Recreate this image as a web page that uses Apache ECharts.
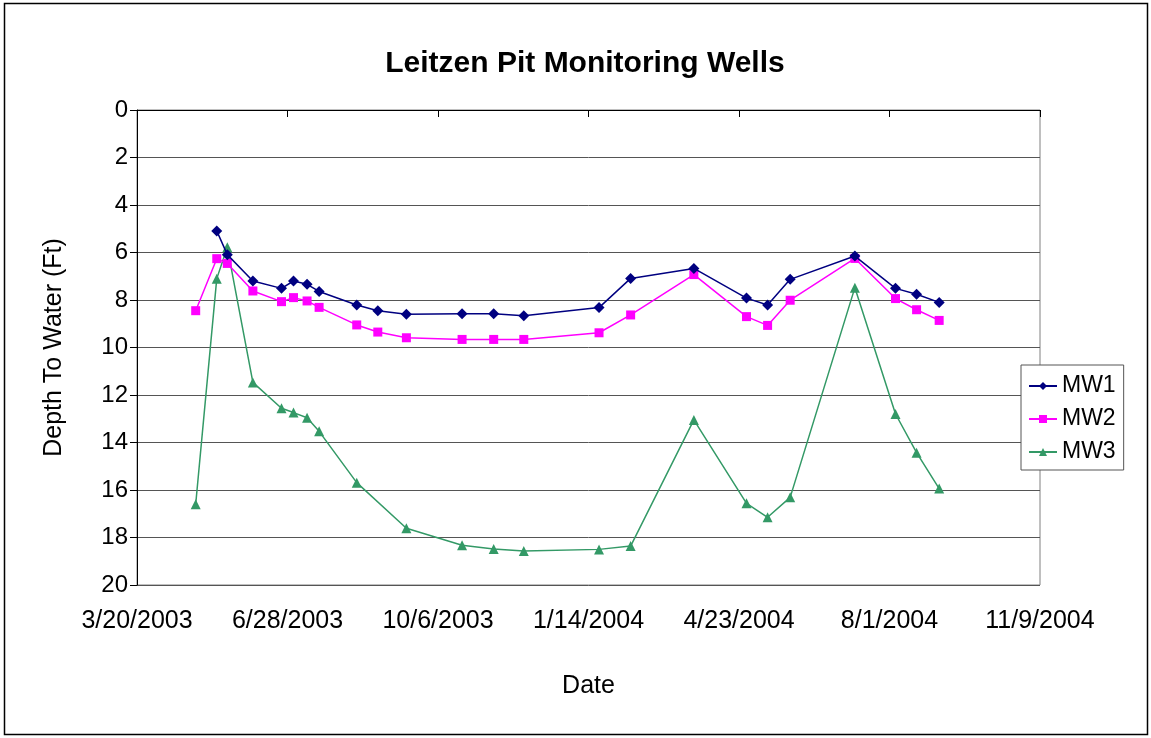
<!DOCTYPE html>
<html>
<head>
<meta charset="utf-8">
<title>Leitzen Pit Monitoring Wells</title>
<script src="https://cdn.jsdelivr.net/npm/echarts@6/dist/echarts.min.js"></script>
<style>
  html, body { margin: 0; padding: 0; background: #fff; }
  #chart { width: 1151px; height: 738px; }
</style>
</head>
<body>
<div id="chart"></div>
<script>
// Sampling dates (monitoring visits)
const sampleDates = [
  '2003-04-28', '2003-05-12', '2003-05-19', '2003-06-05', '2003-06-24',
  '2003-07-02', '2003-07-11', '2003-07-19', '2003-08-13', '2003-08-27',
  '2003-09-15', '2003-10-22', '2003-11-12', '2003-12-02', '2004-01-21',
  '2004-02-11', '2004-03-24', '2004-04-28', '2004-05-12', '2004-05-27',
  '2004-07-09', '2004-08-05', '2004-08-19', '2004-09-03'
];

// Depth to water (ft) per well; null = not measured
const mw1 = [null, 5.09, 6.09, 7.2, 7.51, 7.2, 7.34, 7.64, 8.21, 8.45,
  8.6, 8.58, 8.58, 8.66, 8.32, 7.09, 6.67, 7.92, 8.21, 7.13,
  6.15, 7.51, 7.76, 8.1];
const mw2 = [8.45, 6.26, 6.46, 7.62, 8.07, 7.9, 8.04, 8.31, 9.05, 9.35,
  9.59, 9.66, 9.66, 9.66, 9.38, 8.63, 6.93, 8.7, 9.07, 8.01,
  6.25, 7.94, 8.41, 8.86];
const mw3 = [16.6, 7.1, 5.78, 11.47, 12.56, 12.74, 12.96, 13.53, 15.69, null,
  17.61, 18.33, 18.48, 18.57, 18.5, 18.36, 13.05, 16.56, 17.15, 16.31,
  7.48, 12.8, 14.43, 15.94];

// Date axis: starts 3/20/2003, ticks every 100 days up to 11/9/2004
const axisStart = '2003-03-20';
const axisSpanDays = 600;
const tickStepDays = 100;

const DAY = 86400000;
function toUTC(s) {
  const p = s.split('-').map(Number);
  return Date.UTC(p[0], p[1] - 1, p[2]);
}
const startMs = toUTC(axisStart);
function dayOffset(s) { return Math.round((toUTC(s) - startMs) / DAY); }
function fmtDate(v) {
  const d = new Date(startMs + v * DAY);
  return (d.getUTCMonth() + 1) + '/' + d.getUTCDate() + '/' + d.getUTCFullYear();
}
function pairs(vals) {
  return sampleDates.map((s, i) => [dayOffset(s), vals[i]]).filter(p => p[1] !== null);
}

const FONT = "'Liberation Sans', Arial, sans-serif";
const chart = echarts.init(document.getElementById('chart'), null, { renderer: 'canvas' });

chart.setOption({
  backgroundColor: '#fff',
  animation: false,
  textStyle: { fontFamily: FONT },
  graphic: [{
    type: 'rect',
    shape: { x: 4.5, y: 3.5, width: 1143, height: 731 },
    style: { fill: 'none', stroke: '#000', lineWidth: 1.5 },
    silent: true, z: -1
  }],
  title: {
    text: 'Leitzen Pit Monitoring Wells',
    left: 580, top: 44, textAlign: 'center',
    textStyle: { fontFamily: FONT, fontSize: 30, fontWeight: 'bold', color: '#000' }
  },
  legend: {
    orient: 'vertical',
    left: 1021, top: 365,
    padding: [9, 8, 6, 7],
    itemWidth: 28, itemHeight: 10, itemGap: 9,
    backgroundColor: '#fff',
    borderColor: '#555', borderWidth: 1,
    textStyle: { fontFamily: FONT, fontSize: 23, color: '#000', lineHeight: 24 },
    data: ['MW1', 'MW2', 'MW3']
  },
  grid: {
    left: 137, top: 110, right: 111, bottom: 153,
    show: true, borderColor: '#808080', borderWidth: 1, backgroundColor: '#fff'
  },
  xAxis: {
    type: 'value',
    min: 0, max: axisSpanDays, interval: tickStepDays,
    name: 'Date', nameLocation: 'middle', nameGap: 89,
    nameTextStyle: { fontFamily: FONT, fontSize: 25, color: '#000' },
    axisLine: { show: true, lineStyle: { color: '#000', width: 1 } },
    axisTick: { show: true, length: 7, lineStyle: { color: '#000' } },
    splitLine: { show: false },
    axisLabel: {
      formatter: fmtDate, margin: 24,
      fontFamily: FONT, fontSize: 25, color: '#000',
      showMinLabel: true, showMaxLabel: true
    }
  },
  yAxis: {
    type: 'value',
    inverse: true,
    min: 0, max: 20, interval: 2,
    name: 'Depth To Water (Ft)', nameLocation: 'middle', nameGap: 70,
    nameTextStyle: { fontFamily: FONT, fontSize: 25, color: '#000' },
    axisLine: { show: true, lineStyle: { color: '#000', width: 1 } },
    axisTick: { show: true, length: 7, lineStyle: { color: '#000' } },
    splitLine: { show: true, lineStyle: { color: '#555', width: 1 } },
    axisLabel: { margin: 9, fontFamily: FONT, fontSize: 24, color: '#000' }
  },
  series: [
    {
      name: 'MW1', type: 'line', data: pairs(mw1),
      symbol: 'diamond', symbolSize: 11, showAllSymbol: true,
      lineStyle: { color: '#000080', width: 1.5 },
      itemStyle: { color: '#000080' }, z: 4
    },
    {
      name: 'MW2', type: 'line', data: pairs(mw2),
      symbol: 'rect', symbolSize: 9, showAllSymbol: true,
      lineStyle: { color: '#FF00FF', width: 1.5 },
      itemStyle: { color: '#FF00FF' }, z: 3
    },
    {
      name: 'MW3', type: 'line', data: pairs(mw3),
      symbol: 'triangle', symbolSize: 10, showAllSymbol: true,
      lineStyle: { color: '#339966', width: 1.5 },
      itemStyle: { color: '#339966' }, z: 2
    }
  ]
});
</script>
</body>
</html>
